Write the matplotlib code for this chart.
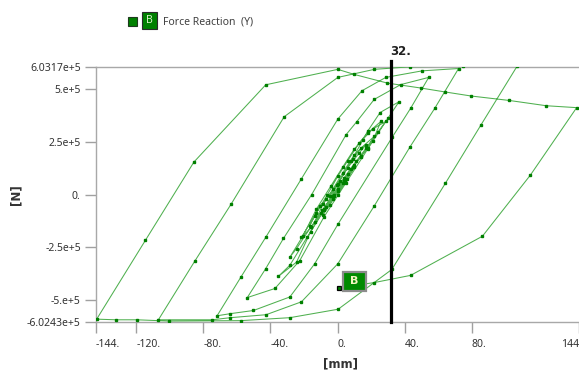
import numpy as np
import matplotlib
matplotlib.use("Agg")
import matplotlib.pyplot as plt
from matplotlib.patches import Rectangle

plt.rcParams['font.family'] = ['Noto Sans', 'DejaVu Sans']

# displacement [mm] and force [1e5 N], in load order
# small cycles near the origin
inner_disp = [0, 4.5, 10.1, 5.5, 0.5, -4.7, -8.7,
              -2.8, 3.1, 8.1, 14, 10, 4, -2, -6.7, -13.6,
              -8.7, -2.8, 3.1, 10.1, 17, 13, 6.1, -0.5, -6.7, -12.6, -16.6,
              -10.7, -4.7, 1.2, 8.1, 14, 21.9, 17.9, 11.1, 4, -3, -10, -15.6, -21.5,
              -13.6, -6, 0.2, 6.1, 13, 17.9, 25.9, 20.9, 14, 6, -2, -9, -16, -24.4, -28.4,
              -20.5, -12.6, -4, 3.1, 10, 15, 21, 28.8, 24, 17, 9, 0, -8, -16, -24.4, -35.3]
inner_force = [0, 0.6, 1.3, 0.75, 0.15, -0.5, -0.95,
               -0.2, 0.55, 1.2, 1.81, 1.4, 0.7, -0.05, -0.6, -1.3,
               -0.46, 0.25, 1.03, 1.89, 2.36, 1.97, 1.27, 0.45, -0.22, -0.85, -1.47,
               -0.54, -0.07, 0.64, 1.58, 2.2, 2.75, 2.2, 1.58, 0.8, -0.05, -0.85, -1.55, -2.02,
               -1.0, 0.0, 0.87, 1.6, 2.45, 2.91, 3.46, 2.52, 1.8, 0.95, 0.0, -0.75, -1.55, -2.55, -2.96,
               -1.94, -0.69, 0.4, 1.3, 2.15, 2.6, 3.1, 3.46, 2.95, 2.2, 1.3, 0.25, -0.75, -1.75, -3.19, -3.87]

# cycle to about +37 / -54
c1_disp = [-28.4, -18, -8, 0.2, 9, 18, 25.4, 36.7,
           30, 18, 5, -8, -22.5, -37.3, -53.8]
c1_force = [-3.34, -2.0, -0.7, 0.5, 1.7, 3.0, 3.88, 4.39,
            3.6, 2.15, 0.55, -1.05, -3.12, -4.44, -4.87]

# cycle to about +54 / -72
c2_disp = [-42.8, -32.2, -15.4, 5.1, 11.4, 21.9, 37.7, 54.4,
           43.6, 32.7, 0.2, -13.6, -28.4, -50.1, -63.9, -71.8]
c2_force = [-3.5, -2.07, 0.0, 2.83, 3.44, 4.5, 5.2, 5.54,
            4.08, 2.72, -1.41, -3.27, -4.84, -5.48, -5.63, -5.73]

# cycle to about +72 / -107
c3_disp = [-57.6, -42.8, -21.5, 0.2, 14.6, 28.8, 50.5, 72.2,
           58, 43.2, 21.9, 0.2, -21.5, -42.6, -63.9, -74.7, -106.8]
c3_force = [-3.9, -2.02, 0.75, 3.57, 4.91, 5.54, 5.85, 5.96,
            4.08, 2.25, -0.54, -3.27, -5.07, -5.68, -5.82, -5.92, -5.92]

# cycle to about +107 / -144
c4_disp = [-85.2, -63.5, -31.8, 0.2, 21.9, 43.2, 75.1, 107.1,
           85.6, 64.3, 32.4, 0.4, -28.4, -57.6, -100.4, -119.5, -132, -143.6]
c4_force = [-3.16, -0.46, 3.68, 5.54, 5.92, 6.04, 6.07, 6.07,
            3.3, 0.53, -3.54, -5.42, -5.82, -5.96, -5.98, -5.92, -5.92, -5.89]

# last cycle to +144, back to 0
c5_disp = [-114.6, -85.6, -42.8, 0.2, 10, 29.8, 49.5, 64.3, 79.7, 102.4, 124.5, 142.6,
           115, 86.4, 43.6, 21.9, 0.6]
c5_force = [-2.17, 1.54, 5.19, 5.92, 5.68, 5.27, 5.04, 4.85, 4.66, 4.45, 4.2, 4.11,
            0.92, -1.97, -3.82, -4.16, -4.41]

y_ticks = [6.0317e5, 5e5, 2.5e5, 0, -2.5e5, -5e5, -6.0243e5]
y_labels = ["6.0317e+5", "5.e+5", "2.5e+5", "0.", "-2.5e+5", "-5.e+5", "-6.0243e+5"]
x_ticks = [-144, -120, -80, -40, 0, 40, 80, 144]
x_labels = ["-144.", "-120.", "-80.", "-40.", "0.", "40.", "80.", "144"]
cursor_x = 32

W, H = 579, 372


def fx(px):
    return px / W


def fy(py):
    return 1 - py / H


disp = np.array(inner_disp + c1_disp + c2_disp + c3_disp + c4_disp + c5_disp)
force = np.array(inner_force + c1_force + c2_force + c3_force + c4_force + c5_force) * 1e5

fig = plt.figure(figsize=(W / 100, H / 100), dpi=100)
ax = fig.add_axes([fx(96), fy(322), fx(579) - fx(96), fy(67) - fy(322)])

ax.plot(disp, force, color='#4fb04f', lw=0.75, marker='s', ms=1.6,
        mfc='#008000', mec='#008000', zorder=3)
ax.set_xlim(-144, 144)
ax.set_ylim(-6.0243e5, 6.0317e5)

# cursor line
ax.plot([cursor_x, cursor_x], [-6.0243e5, 6.33e5], color='black', lw=2.3,
        clip_on=False, zorder=5)
ax.text(cursor_x - 0.5, 6.45e5, "32.", fontsize=8.5, fontweight='bold',
        family='DejaVu Sans', ha='left', va='bottom', color='#202020')

# probe marker and its label
ax.plot([disp[-1]], [force[-1]], marker='s', ms=3.2, mfc='#008000',
        mec='black', mew=0.9, zorder=6)
fig.add_artist(Rectangle((fx(343), fy(291)), fx(23), fy(272) - fy(291),
                         transform=fig.transFigure, fc='#008a00', ec='#8c8c8c', lw=1.6))
fig.text(fx(354.5), fy(281.5), "B", fontsize=8, fontweight='bold', family='DejaVu Sans',
         color='#f4f4c0', ha='center', va='center')

ax.set_yticks(y_ticks)
ax.set_yticklabels(y_labels)
ax.set_xticks(x_ticks)
ax.set_xticklabels(x_labels)
for lab in ax.get_xticklabels():
    lab.set_ha('left')
ax.get_xticklabels()[-1].set_ha('right')
ax.tick_params(axis='both', colors='#a0a0a0', labelcolor='#333333', labelsize=7.5,
               length=8, width=1, direction='out')
ax.tick_params(axis='x', pad=4)
ax.tick_params(axis='y', pad=3)

for s in ['left', 'bottom', 'top']:
    ax.spines[s].set_color('#a8a8a8')
    ax.spines[s].set_linewidth(1)
ax.spines['right'].set_visible(False)

fig.text(fx(16), fy(195), "[N]", rotation=90, fontsize=8.5, fontweight='bold',
         family='DejaVu Sans', ha='center', va='center', color='#333333')
fig.text(fx(340), fy(364), "[mm]", fontsize=8.5, fontweight='bold',
         family='DejaVu Sans', ha='center', va='center', color='#333333')

# legend at the top
fig.add_artist(Rectangle((fx(128), fy(26)), fx(9), fy(17) - fy(26),
                         transform=fig.transFigure, fc='#008000', ec='#1e3a1e', lw=0.8))
fig.add_artist(Rectangle((fx(142), fy(29)), fx(15), fy(12) - fy(29),
                         transform=fig.transFigure, fc='#008000', ec='#2b2b2b', lw=0.8))
fig.text(fx(149.5), fy(20.5), "B", fontsize=7.5, color='#d8f0c8',
         ha='center', va='center')
fig.text(fx(163), fy(22), "Force Reaction  (Y)", fontsize=7.5, color='#404040',
         ha='left', va='center')

fig.savefig("out.png", dpi=100)
